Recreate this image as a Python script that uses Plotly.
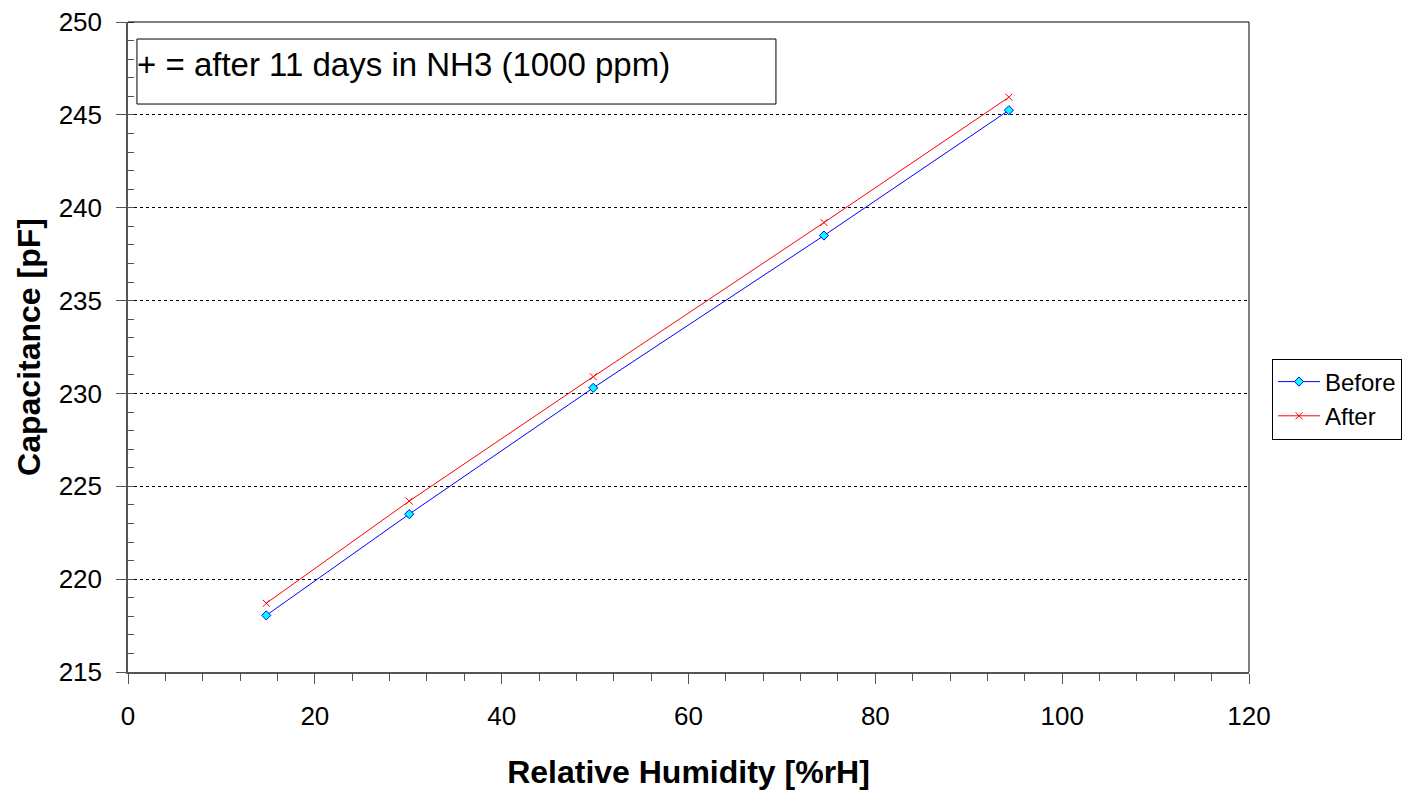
import plotly.graph_objects as go

humidity_before = [14.8, 30.1, 49.8, 74.5, 94.3]
cap_before = [218.05, 223.5, 230.3, 238.5, 245.25]
humidity_after = [14.8, 30.1, 49.8, 74.5, 94.3]
cap_after = [218.7, 224.2, 230.9, 239.2, 245.95]
note_text = "+ = after 11 days in NH3 (1000 ppm)"

FONT = "Liberation Sans, Arial, sans-serif"

fig = go.Figure()
fig.add_trace(go.Scatter(
    x=humidity_before, y=cap_before, name="Before", mode="lines+markers",
    line=dict(color="#0000FF", width=1),
    marker=dict(symbol="diamond", size=7, color="#00FFFF", line=dict(color="#0000FF", width=1)),
))
fig.add_trace(go.Scatter(
    x=humidity_after, y=cap_after, name="After", mode="lines+markers",
    line=dict(color="#FF0000", width=1),
    marker=dict(symbol="x-thin", size=7, color="#FF0000", line=dict(color="#FF0000", width=1)),
))

fig.update_layout(
    width=1412, height=792,
    margin=dict(l=120, r=171, t=14, b=128),
    paper_bgcolor="white", plot_bgcolor="white",
    font=dict(family=FONT, color="black"),
    showlegend=True,
    legend=dict(
        x=1.0205, y=0.42, xanchor="left", yanchor="middle",
        bordercolor="black", borderwidth=1, bgcolor="white",
        font=dict(size=24, family=FONT), tracegroupgap=0, itemwidth=42,
    ),
    xaxis=dict(
        range=[0, 120], dtick=20, tick0=0, automargin=False,
        showgrid=False, zeroline=False,
        showline=True, linecolor="#555555", linewidth=1.5,
        ticks="outside", ticklen=10, tickcolor="#555555",
        tickfont=dict(size=26, family=FONT), ticklabelstandoff=10,
        ticklabeloverflow="allow",
        minor=dict(dtick=4, ticks="outside", ticklen=7, tickcolor="#555555", showgrid=False),
        title=dict(text="<b>Relative Humidity [%rH]</b>", font=dict(size=32, family=FONT), standoff=31),
    ),
    yaxis=dict(
        range=[215, 250], dtick=5, tick0=215, automargin=False,
        showgrid=True, gridcolor="black", gridwidth=1, griddash="3px,3px",
        zeroline=False,
        showline=True, linecolor="#555555", linewidth=1.5,
        ticks="outside", ticklen=10, tickcolor="#555555",
        tickfont=dict(size=26, family=FONT), ticklabelstandoff=9,
        ticklabeloverflow="allow",
        minor=dict(dtick=1, ticks="inside", ticklen=6, tickcolor="#555555", showgrid=False),
        title=dict(text="<b>Capacitance [pF]</b>", font=dict(size=32, family=FONT), standoff=8),
    ),
    shapes=[
        dict(type="line", xref="paper", yref="paper", x0=0, x1=1, y0=1, y1=1,
             line=dict(color="black", width=1)),
        dict(type="line", xref="paper", yref="paper", x0=1, x1=1, y0=0, y1=1,
             line=dict(color="black", width=1)),
        dict(type="rect", xref="paper", yref="paper", x0=0.008, x1=0.578, y0=0.8738, y1=0.9738,
             line=dict(color="black", width=1), fillcolor="white", layer="above"),
    ],
    annotations=[
        dict(text=note_text, xref="paper", yref="paper", x=0.0062, y=0.9669,
             xanchor="left", yanchor="top", showarrow=False,
             font=dict(size=33, family=FONT, color="black")),
    ],
)

fig.write_html("out.html")
